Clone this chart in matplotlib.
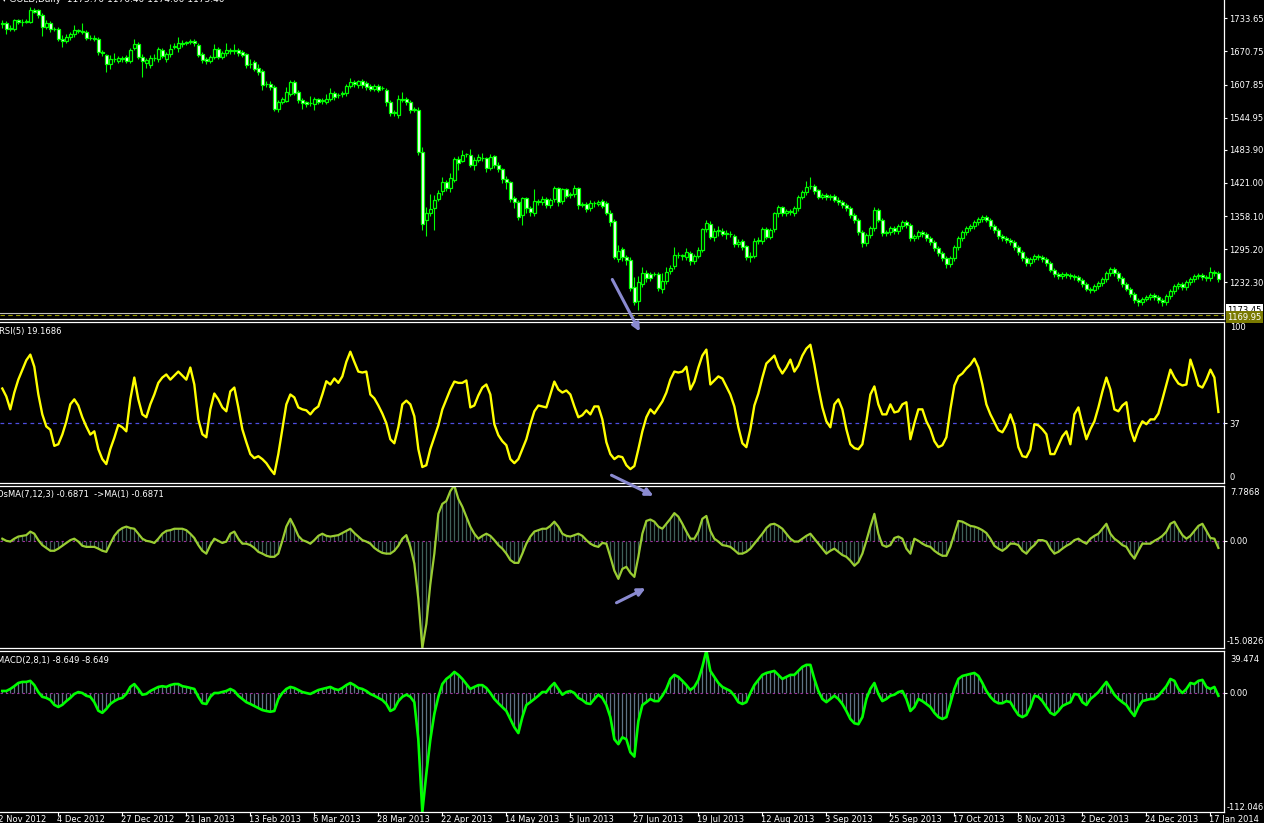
import numpy as np
import matplotlib
matplotlib.use('Agg')
from matplotlib import pyplot as plt
from matplotlib import transforms
from matplotlib.patches import FancyArrowPatch

W, H = 1264, 823

opens = [1722, 1724, 1713, 1713, 1730, 1726, 1727, 1727, 1750, 1749,
         1740, 1718, 1724, 1713, 1714, 1695, 1691, 1698, 1703, 1710,
         1709, 1708, 1696, 1696, 1695, 1669, 1664, 1646, 1656, 1653,
         1658, 1660, 1652, 1678, 1684, 1661, 1648, 1645, 1658, 1656,
         1674, 1656, 1666, 1680, 1678, 1687, 1687, 1688, 1691, 1683,
         1666, 1656, 1652, 1661, 1676, 1661, 1667, 1672, 1671, 1674,
         1669, 1666, 1647, 1650, 1640, 1634, 1609, 1609, 1604, 1561,
         1575, 1577, 1590, 1613, 1594, 1578, 1575, 1572, 1571, 1580,
         1577, 1575, 1580, 1591, 1588, 1589, 1592, 1605, 1612, 1607,
         1614, 1611, 1605, 1600, 1605, 1601, 1598, 1575, 1554, 1550,
         1581, 1580, 1574, 1560, 1560, 1480, 1350, 1364, 1374, 1390,
         1406, 1423, 1411, 1426, 1466, 1463, 1476, 1474, 1455, 1465,
         1468, 1468, 1450, 1472, 1456, 1447, 1428, 1422, 1392, 1384,
         1360, 1392, 1373, 1364, 1386, 1384, 1391, 1379, 1390, 1411,
         1386, 1409, 1398, 1400, 1411, 1380, 1381, 1373, 1382, 1381,
         1386, 1382, 1364, 1349, 1276, 1295, 1280, 1275, 1224, 1197,
         1230, 1250, 1248, 1248, 1248, 1219, 1235, 1253, 1263, 1284,
         1283, 1281, 1288, 1272, 1282, 1293, 1333, 1344, 1319, 1330,
         1330, 1325, 1324, 1321, 1306, 1311, 1301, 1280, 1283, 1311,
         1310, 1334, 1319, 1333, 1363, 1375, 1363, 1368, 1363, 1373,
         1395, 1403, 1415, 1415, 1407, 1395, 1398, 1394, 1396, 1389,
         1385, 1379, 1373, 1360, 1351, 1328, 1307, 1322, 1335, 1370,
         1351, 1326, 1328, 1335, 1330, 1339, 1347, 1341, 1316, 1320,
         1328, 1324, 1316, 1309, 1297, 1288, 1278, 1267, 1278, 1299,
         1316, 1328, 1335, 1339, 1347, 1352, 1356, 1351, 1339, 1331,
         1320, 1316, 1312, 1309, 1299, 1290, 1278, 1269, 1276, 1282,
         1280, 1276, 1269, 1256, 1248, 1244, 1248, 1246, 1244, 1242,
         1237, 1229, 1220, 1218, 1225, 1231, 1238, 1250, 1257, 1250,
         1240, 1229, 1220, 1210, 1199, 1195, 1201, 1204, 1208, 1204,
         1199, 1195, 1206, 1216, 1225, 1229, 1223, 1233, 1238, 1244,
         1246, 1242, 1240, 1252, 1250]

closes = [1724, 1713, 1716, 1730, 1726, 1727, 1729, 1749, 1746, 1740,
          1718, 1724, 1713, 1714, 1695, 1691, 1699, 1704, 1711, 1710,
          1708, 1696, 1697, 1694, 1669, 1668, 1646, 1656, 1656, 1658,
          1656, 1652, 1674, 1684, 1661, 1652, 1654, 1659, 1658, 1675,
          1662, 1666, 1676, 1680, 1687, 1685, 1687, 1691, 1686, 1664,
          1654, 1652, 1660, 1675, 1661, 1667, 1674, 1672, 1674, 1667,
          1664, 1645, 1646, 1638, 1631, 1607, 1609, 1604, 1561, 1575,
          1581, 1593, 1613, 1592, 1578, 1572, 1570, 1572, 1580, 1575,
          1577, 1580, 1591, 1584, 1588, 1591, 1605, 1612, 1608, 1614,
          1607, 1604, 1600, 1605, 1597, 1601, 1574, 1554, 1555, 1580,
          1578, 1574, 1560, 1561, 1480, 1344, 1364, 1372, 1389, 1401,
          1423, 1411, 1430, 1466, 1458, 1474, 1476, 1455, 1464, 1471,
          1468, 1450, 1471, 1456, 1447, 1428, 1422, 1390, 1384, 1357,
          1392, 1373, 1366, 1387, 1384, 1391, 1379, 1389, 1411, 1384,
          1409, 1397, 1400, 1411, 1379, 1380, 1371, 1382, 1382, 1384,
          1378, 1364, 1347, 1281, 1292, 1280, 1275, 1221, 1195, 1232,
          1250, 1240, 1240, 1248, 1221, 1235, 1251, 1260, 1284, 1284,
          1283, 1289, 1272, 1282, 1294, 1333, 1345, 1319, 1330, 1330,
          1325, 1325, 1324, 1306, 1308, 1299, 1280, 1283, 1311, 1311,
          1333, 1319, 1332, 1363, 1375, 1363, 1368, 1366, 1373, 1395,
          1403, 1413, 1415, 1406, 1395, 1398, 1394, 1396, 1389, 1385,
          1379, 1373, 1360, 1351, 1328, 1307, 1322, 1335, 1370, 1351,
          1326, 1328, 1335, 1330, 1339, 1347, 1341, 1316, 1320, 1328,
          1324, 1316, 1309, 1297, 1288, 1278, 1267, 1278, 1299, 1316,
          1328, 1335, 1339, 1347, 1352, 1356, 1351, 1339, 1331, 1320,
          1316, 1312, 1309, 1299, 1290, 1278, 1269, 1276, 1282, 1280,
          1276, 1269, 1256, 1248, 1244, 1248, 1246, 1244, 1242, 1237,
          1229, 1220, 1218, 1225, 1231, 1238, 1250, 1257, 1250, 1240,
          1229, 1220, 1210, 1199, 1195, 1201, 1204, 1208, 1204, 1199,
          1195, 1206, 1216, 1225, 1229, 1223, 1233, 1238, 1244, 1246,
          1242, 1240, 1252, 1250, 1238]

highs = [1731, 1728, 1720, 1733, 1733, 1732, 1733, 1756, 1753, 1752,
         1743, 1730, 1728, 1718, 1717, 1701, 1704, 1708, 1720, 1714,
         1725, 1712, 1701, 1701, 1699, 1673, 1666, 1664, 1668, 1662,
         1663, 1664, 1678, 1694, 1688, 1666, 1658, 1664, 1665, 1679,
         1678, 1670, 1684, 1686, 1698, 1693, 1691, 1695, 1694, 1686,
         1670, 1660, 1664, 1684, 1680, 1672, 1686, 1678, 1684, 1678,
         1673, 1668, 1656, 1655, 1646, 1637, 1615, 1614, 1607, 1578,
         1584, 1603, 1616, 1616, 1597, 1583, 1577, 1586, 1584, 1583,
         1582, 1590, 1602, 1595, 1592, 1596, 1609, 1620, 1616, 1617,
         1618, 1614, 1609, 1608, 1608, 1605, 1601, 1579, 1559, 1588,
         1593, 1584, 1578, 1565, 1565, 1490, 1375, 1400, 1398, 1408,
         1432, 1427, 1440, 1470, 1472, 1484, 1478, 1486, 1470, 1476,
         1478, 1471, 1476, 1475, 1460, 1450, 1434, 1424, 1397, 1388,
         1395, 1395, 1378, 1410, 1390, 1396, 1395, 1393, 1415, 1414,
         1412, 1412, 1404, 1418, 1414, 1384, 1385, 1389, 1387, 1388,
         1390, 1386, 1370, 1352, 1303, 1300, 1284, 1281, 1243, 1245,
         1262, 1256, 1252, 1252, 1251, 1250, 1262, 1266, 1300, 1290,
         1287, 1298, 1292, 1286, 1299, 1336, 1350, 1348, 1336, 1340,
         1336, 1332, 1330, 1324, 1314, 1314, 1304, 1290, 1316, 1318,
         1338, 1338, 1336, 1366, 1380, 1378, 1372, 1371, 1377, 1398,
         1407, 1424, 1433, 1419, 1410, 1402, 1401, 1400, 1400, 1394,
         1389, 1383, 1377, 1364, 1355, 1332, 1326, 1340, 1375, 1374,
         1355, 1332, 1339, 1339, 1343, 1351, 1351, 1345, 1324, 1332,
         1332, 1328, 1320, 1313, 1301, 1292, 1282, 1282, 1303, 1320,
         1332, 1339, 1343, 1351, 1356, 1361, 1360, 1355, 1343, 1335,
         1324, 1320, 1316, 1313, 1303, 1294, 1282, 1280, 1286, 1286,
         1284, 1280, 1273, 1260, 1252, 1252, 1252, 1250, 1248, 1246,
         1241, 1233, 1224, 1229, 1235, 1242, 1254, 1262, 1261, 1254,
         1244, 1233, 1224, 1214, 1203, 1205, 1208, 1212, 1212, 1208,
         1203, 1210, 1220, 1229, 1233, 1233, 1237, 1242, 1248, 1250,
         1250, 1246, 1262, 1256, 1254]

lows = [1715, 1703, 1709, 1710, 1722, 1719, 1724, 1724, 1743, 1735,
        1700, 1714, 1708, 1709, 1690, 1680, 1686, 1693, 1699, 1705,
        1704, 1692, 1692, 1690, 1664, 1662, 1632, 1637, 1650, 1649,
        1651, 1648, 1648, 1674, 1657, 1622, 1640, 1640, 1652, 1650,
        1658, 1650, 1660, 1676, 1670, 1680, 1683, 1684, 1681, 1660,
        1648, 1647, 1648, 1656, 1656, 1656, 1663, 1666, 1666, 1662,
        1660, 1640, 1640, 1633, 1626, 1598, 1604, 1598, 1557, 1556,
        1570, 1574, 1586, 1588, 1573, 1562, 1566, 1568, 1560, 1571,
        1571, 1571, 1576, 1579, 1582, 1584, 1587, 1601, 1603, 1602,
        1602, 1598, 1595, 1595, 1593, 1597, 1568, 1548, 1548, 1545,
        1574, 1569, 1554, 1555, 1475, 1332, 1321, 1359, 1332, 1386,
        1398, 1405, 1404, 1423, 1446, 1460, 1470, 1451, 1445, 1460,
        1463, 1442, 1446, 1450, 1442, 1420, 1410, 1384, 1374, 1350,
        1342, 1364, 1358, 1359, 1380, 1380, 1373, 1373, 1384, 1378,
        1381, 1392, 1393, 1395, 1372, 1375, 1366, 1368, 1376, 1377,
        1374, 1360, 1340, 1276, 1270, 1272, 1265, 1216, 1190, 1180,
        1224, 1233, 1234, 1244, 1215, 1212, 1230, 1248, 1258, 1279,
        1274, 1274, 1266, 1268, 1278, 1290, 1328, 1314, 1310, 1321,
        1320, 1314, 1318, 1300, 1300, 1293, 1274, 1270, 1278, 1305,
        1305, 1314, 1314, 1328, 1357, 1358, 1358, 1361, 1358, 1368,
        1390, 1398, 1410, 1400, 1390, 1390, 1388, 1389, 1384, 1380,
        1374, 1368, 1355, 1345, 1322, 1300, 1302, 1317, 1330, 1346,
        1320, 1321, 1323, 1325, 1325, 1334, 1336, 1310, 1311, 1315,
        1319, 1311, 1304, 1292, 1283, 1272, 1260, 1262, 1273, 1294,
        1311, 1323, 1330, 1334, 1342, 1347, 1346, 1334, 1326, 1315,
        1311, 1307, 1304, 1294, 1285, 1272, 1263, 1264, 1271, 1275,
        1271, 1264, 1251, 1243, 1239, 1239, 1241, 1239, 1237, 1232,
        1224, 1215, 1212, 1213, 1220, 1226, 1233, 1245, 1245, 1235,
        1224, 1215, 1205, 1194, 1187, 1190, 1196, 1199, 1199, 1194,
        1188, 1190, 1201, 1211, 1220, 1218, 1218, 1228, 1233, 1239,
        1237, 1235, 1235, 1245, 1233]

rsi = [58.5, 53.6, 45.6, 56, 64, 70, 76, 79.5, 72, 55,
       42.5, 35, 33, 23, 24, 30, 38, 48.7, 51.8, 48,
       40.7, 35, 30, 32, 21, 14.8, 11.7, 21, 28, 36,
       34.5, 32, 51.8, 65.3, 51.8, 42.5, 40.7, 48.7, 54.8, 62,
       65.3, 67.2, 64, 66.5, 69, 66.5, 64, 71.5, 61, 39.4,
       30.2, 28.3, 45.6, 55.4, 51.8, 46.8, 44.4, 56.7, 59.1, 46.8,
       33.3, 25.3, 17.9, 15.4, 16.6, 14.8, 12.3, 8.6, 5.5, 17.9,
       33.3, 48.7, 54.8, 53, 46.8, 45.6, 45, 42.5, 45.6, 47.4,
       54.8, 63, 61, 64.7, 62, 66, 75, 81.3, 75, 69,
       68.4, 69, 54.8, 52.4, 48, 43, 37, 27.1, 24.6, 34.5,
       48.7, 51, 48.7, 41.3, 21, 9.9, 11, 21, 28.3, 35.7,
       45.6, 51.8, 57.9, 62.8, 62, 62, 63.5, 46.8, 48, 54.2,
       59.1, 61, 54.8, 36.4, 29.6, 25.9, 23.4, 14.8, 12.3, 14.8,
       20.9, 27.1, 36.4, 44.4, 48, 47.4, 46.8, 54.8, 62.8, 57.9,
       56, 57.3, 54.8, 47.4, 40.7, 42, 45, 42.5, 47.4, 47.4,
       39.4, 25.3, 17.9, 14.8, 16.6, 16, 11, 8.6, 10.5, 20.9,
       32, 40.7, 45.6, 43, 46.8, 50.5, 56, 64, 69, 68.4,
       69, 72, 57.9, 62.8, 71.5, 78.9, 82.6, 61, 63.5, 66,
       64.7, 59.8, 54.8, 47.4, 34.5, 24.6, 22.2, 33.3, 48, 55.4,
       65.3, 74, 76.4, 78.9, 72, 67.8, 71.5, 76.4, 69, 72.7,
       78.9, 83.2, 85.6, 73.3, 59.1, 46.8, 38.2, 34.5, 48.7, 51.8,
       45.6, 33.3, 24, 21.6, 20.9, 24, 38.2, 54.8, 59.8, 48.7,
       42.5, 42.5, 48.7, 43.7, 44.4, 48.7, 50, 27.1, 37, 45.6,
       45.6, 38.2, 33.3, 25.9, 22.2, 23.4, 28.3, 45.6, 60.4, 66,
       67.8, 70.9, 73.3, 77, 71.5, 61, 48.7, 42.5, 37.6, 32.7,
       31.4, 35.7, 42.5, 35.7, 22.2, 16.6, 16, 20.9, 36.4, 35.7,
       33.3, 30.2, 17.9, 17.9, 23.4, 28.9, 32, 24, 42.5, 46.8,
       36.4, 27.1, 33.3, 38.2, 46.8, 56.7, 65.3, 57.9, 45.6, 44.4,
       48, 50, 33.3, 25.9, 33.3, 38.2, 36.4, 39.4, 39.4, 43,
       51.8, 61, 70.2, 65.3, 61.6, 60.4, 61, 76.4, 69, 60.4,
       59.1, 64, 70.2, 65.3, 44]

osma = [0.3, 0, -0.1, 0.3, 0.6, 0.7, 0.8, 1.3, 1.0, 0.1,
        -0.6, -1.0, -1.4, -1.4, -1.1, -0.7, -0.3, 0.1, 0.3, -0.1,
        -0.7, -0.85, -0.85, -0.85, -1.1, -1.4, -1.55, -0.4, 0.7, 1.4,
        1.8, 2.0, 1.8, 1.7, 1.0, 0.3, 0, -0.1, -0.3, 0.3,
        1.0, 1.4, 1.5, 1.7, 1.7, 1.7, 1.5, 1.0, 0.4, -0.6,
        -1.4, -1.8, -0.6, 0.3, 0, -0.3, -0.1, 1.0, 1.3, 0.3,
        -0.4, -0.4, -0.6, -1.0, -1.55, -1.8, -2.1, -2.25, -2.25, -1.8,
        0, 2.0, 3.1, 2.0, 0.7, 0.1, -0.1, -0.4, 0.1, 0.7,
        1.0, 0.7, 0.6, 0.7, 0.8, 1.1, 1.4, 1.7, 1.1, 0.6,
        0.1, -0.1, -0.4, -1.0, -1.4, -1.7, -1.8, -1.8, -1.4, -0.7,
        0.3, 0.8, -0.85, -3.2, -8.2, -15.08, -11.7, -6.1, -1.8, 3.8,
        5.2, 5.6, 7.0, 7.79, 5.9, 4.8, 3.4, 2.0, 1.0, 0.3,
        0.7, 1.0, 0.7, 0.1, -0.6, -1.1, -1.8, -2.7, -3.1, -3.1,
        -1.8, -0.4, 0.6, 1.3, 1.5, 1.7, 1.7, 2.1, 2.7, 2.0,
        1.0, 0.7, 0.6, 0.8, 1.0, 0.7, 0.1, -0.4, -0.7, -0.85,
        -0.3, -0.4, -2.25, -4.2, -5.35, -3.95, -3.66, -4.5, -5.07, -2.25,
        1.0, 2.8, 3.0, 2.7, 2.0, 1.7, 2.4, 3.1, 3.9, 3.4,
        2.4, 1.3, 0.3, 0.3, 1.3, 3.1, 3.5, 1.4, 0.3, -0.1,
        -0.6, -0.7, -0.85, -1.3, -1.8, -1.8, -1.55, -1.1, -0.4, 0.3,
        1.0, 1.8, 2.3, 2.4, 2.1, 1.7, 1.0, 0.3, -0.1, -0.1,
        0.3, 0.7, 1.0, 0.3, -0.4, -1.1, -1.8, -1.4, -1.1, -1.55,
        -2.0, -2.25, -2.8, -3.5, -3.0, -1.8, 0, 2.0, 3.8, 1.0,
        -0.6, -0.85, -0.6, 0.4, 0.6, 0.3, -1.1, -1.8, 0.3, 0,
        -0.4, -0.7, -0.85, -1.4, -1.8, -2.1, -2.1, -0.85, 1.0, 2.8,
        2.7, 2.4, 2.1, 2.0, 1.8, 1.5, 1.1, 0.3, -0.7, -1.1,
        -1.4, -1.0, -0.4, -0.4, -0.6, -1.4, -1.8, -1.1, -0.6, 0.1,
        0.1, -0.1, -1.1, -1.8, -1.55, -1.1, -0.7, -0.4, 0.1, 0.3,
        -0.1, -0.4, 0.3, 0.7, 1.0, 1.7, 2.4, 1.0, 0.3, -0.1,
        -0.6, -0.85, -1.8, -2.5, -1.4, -0.4, -0.4, -0.4, 0, 0.3,
        0.7, 1.3, 2.4, 2.7, 1.7, 0.8, 0.3, 0.7, 1.4, 2.1,
        2.4, 1.4, 0.4, 0.3, -1.0]

macd = [1.5, 1.5, 3.4, 6, 9, 10, 10, 11, 7, 0.5,
        -4, -5, -7, -11.5, -13.5, -11.5, -8, -5, -1.3, 0.5,
        -0.4, -3, -4, -9, -17, -19, -15.4, -10.7, -8, -6,
        -5, -1.3, 5.3, 8, 3.4, -2, -1.3, 1.5, 3.4, 5.3,
        6, 5.3, 7, 8, 8, 6, 5.3, 4.3, 3.4, -4,
        -10, -10.7, -4, -0.4, -0.4, 0.5, 1.5, 3.4, 1.5, -3,
        -6, -9, -10.7, -12.6, -14.5, -16.4, -17.3, -18, -17.3, -6,
        -0.4, 3.4, 5.3, 4.3, 2.4, 0.5, -0.4, -1.3, 0.5, 2.4,
        3.4, 4.3, 5.3, 3.4, 2.4, 4.3, 7, 9, 7, 4.3,
        3.4, 1.5, -1.3, -3, -5, -7, -10.7, -17.3, -15.4, -8,
        -4, -2, -4, -9, -44, -112.05, -76, -44, -20, -4,
        8, 12.8, 15.6, 19.4, 16.6, 12.8, 8, 3.4, 5.3, 7,
        7, 4.3, -0.4, -6, -10, -13.6, -17.3, -24.8, -32.5, -38,
        -23, -11.7, -9, -6, -3, 0.5, 0.5, 5.3, 9, 3.4,
        -2, 0.5, 1.5, -0.4, -5, -7, -10, -10.7, -6, -2,
        -5, -11.7, -23, -43.8, -48.4, -42, -43.8, -56, -60, -26.7,
        -11.7, -9, -6, -8, -8, -3, 3.4, 12.8, 16.6, 14.7,
        11, 7, 2.4, 5.3, 11.9, 24.1, 39.47, 20.3, 14.7, 9,
        5.3, 3.4, 1.5, -3, -9, -10.7, -9, -0.4, 7, 11.9,
        16.6, 18.4, 19.4, 20.3, 16.6, 12.8, 14.7, 16.6, 16.6, 20.3,
        24.1, 26, 26, 12.8, 1.5, -6, -9, -6, -3, -6,
        -10.7, -17.3, -24.8, -28.8, -29.7, -23, -6, 3.4, 9, -1.3,
        -8, -6, -3, -2, 0.5, 1.5, -6, -17.3, -13.6, -6,
        -8, -10.7, -13.6, -19, -23, -24.8, -23, -10, 3.4, 12.8,
        15.6, 16.6, 17.5, 18.4, 15.6, 9, 1.5, -4, -8, -10,
        -10, -8, -9, -15.4, -21, -23, -21, -13.6, -3, -4,
        -8, -13.6, -19, -21, -17.3, -12.6, -10.7, -9, -1.3, -2,
        -9, -11.7, -6, -3, 0.5, 5.3, 10, 4.3, -2, -6,
        -9, -11.7, -17.3, -22, -13.6, -8, -7, -6, -6, -3,
        1.5, 6, 12.8, 11, 3.4, -0.4, 3.4, 9, 8, 11,
        11.9, 5.3, 3.4, 5.3, -3]

price_ticks = [1232.30, 1295.20, 1358.10, 1421.00, 1483.90, 1544.95, 1607.85, 1670.75, 1733.65]
date_labels = ['12 Nov 2012', '4 Dec 2012', '27 Dec 2012', '21 Jan 2013', '13 Feb 2013',
               '6 Mar 2013', '28 Mar 2013', '22 Apr 2013', '14 May 2013', '5 Jun 2013',
               '27 Jun 2013', '19 Jul 2013', '12 Aug 2013', '3 Sep 2013', '25 Sep 2013',
               '17 Oct 2013', '8 Nov 2013', '2 Dec 2013', '24 Dec 2013', '17 Jan 2014']
bid, ask = 1169.95, 1173.45
rsi_level = 37
osma_range = (-15.0826, 7.7868)
macd_range = (-112.046, 39.474)

o = np.array(opens, float)
c = np.array(closes, float)
hi = np.array(highs, float)
lo = np.array(lows, float)
n = len(c)
x = np.arange(n)

LIME = '#00ff00'
FS = 6


def px_rect(top, bottom, left=0, right=1224):
    return [left / W, 1 - bottom / H, (right - left) / W, (bottom - top) / H]


def fy(y):
    return 1 - y / H


def style(ax, top=True):
    ax.set_facecolor('black')
    ax.set_xlim(-0.575, 305.4)
    for s in ['top', 'bottom', 'right']:
        ax.spines[s].set_color('white')
        ax.spines[s].set_linewidth(0.9)
    ax.spines['left'].set_visible(False)
    ax.spines['top'].set_visible(top)
    ax.yaxis.tick_right()
    ax.tick_params(axis='y', colors='white', labelsize=FS, length=2.2, width=0.8, pad=1.5)
    ax.set_xticks([])


fig = plt.figure(figsize=(W / 100, H / 100), dpi=100, facecolor='black')

# price window
ax = fig.add_axes(px_rect(0, 319.3))
style(ax, top=False)
ax.set_ylim(1162.1, 1768.4)
ax.axhline(ask, color='#c0c0c0', lw=0.8)
ax.axhline(bid, color='#9a9a00', lw=0.8, dashes=(4, 3))
ax.vlines(x, lo, hi, color=LIME, lw=0.8, zorder=2)
up = c >= o
body_low = np.minimum(o, c)
body_h = np.maximum(np.abs(c - o), 0.8)
ax.bar(x, body_h, bottom=body_low, width=0.68, color=np.where(up, 'black', 'white'),
       edgecolor=LIME, linewidth=0.9, zorder=3)
ax.set_yticks(price_ticks)
ax.set_yticklabels([f'{v:.2f}' for v in price_ticks])
fig.text(2 / W, fy(-0.5), '\u25be GOLD,Daily  1175.70 1176.40 1174.00 1175.40', color='white',
         fontsize=FS + 0.5, va='center', ha='left')
fig.text(1227 / W, fy(310), '1173.45', color='black', fontsize=FS, va='center', ha='left',
         bbox=dict(boxstyle='square,pad=0.15', fc='white', ec='none'))
fig.text(1227 / W, fy(317), '1169.95', color='white', fontsize=FS, va='center', ha='left',
         bbox=dict(boxstyle='square,pad=0.15', fc='#7a7a00', ec='none'))

# RSI window
ax2 = fig.add_axes(px_rect(321.5, 483))
style(ax2)
ax2.set_ylim(0, 100)
ax2.axhline(rsi_level, color='#4e4ee0', lw=0.9, dashes=(3, 3))
ax2.plot(x, rsi, color='#ffff00', lw=1.7, solid_joinstyle='round')
ax2.set_yticks([rsi_level])
ax2.set_yticklabels([str(rsi_level)])
fig.text(-1 / W, fy(331), 'RSI(5) 19.1686', color='white', fontsize=FS, va='center', ha='left')
fig.text(1230 / W, fy(328), '100', color='white', fontsize=FS, va='center', ha='left')
fig.text(1230 / W, fy(477), '0', color='white', fontsize=FS, va='center', ha='left')

# OsMA window
ax3 = fig.add_axes(px_rect(485.5, 648))
style(ax3)
ax3.set_ylim(*osma_range)
ax3.vlines(x, 0, osma, color='#3f5f58', lw=0.9)
ax3.axhline(0, color='#a030a0', lw=0.8, dashes=(2, 3))
ax3.plot(x, osma, color='#9acd32', lw=1.6)
ax3.set_yticks([0])
ax3.set_yticklabels(['0.00'])
fig.text(-3 / W, fy(495), 'OsMA(7,12,3) -0.6871  ->MA(1) -0.6871', color='white', fontsize=FS,
         va='center', ha='left')
fig.text(1230 / W, fy(493), f'{osma_range[1]:.4f}', color='white', fontsize=FS, va='center', ha='left')
fig.text(1227 / W, fy(642), f'{osma_range[0]:.4f}', color='white', fontsize=FS, va='center', ha='left')

# MACD window
ax4 = fig.add_axes(px_rect(650.5, 812))
style(ax4)
ax4.set_ylim(*macd_range)
ax4.vlines(x, 0, macd, color='#5f7385', lw=0.9)
ax4.axhline(0, color='#a030a0', lw=0.8, dashes=(2, 3))
ax4.plot(x, macd, color=LIME, lw=1.9)
ax4.set_yticks([0])
ax4.set_yticklabels(['0.00'])
fig.text(-3 / W, fy(661), 'MACD(2,8,1) -8.649 -8.649', color='white', fontsize=FS,
         va='center', ha='left')
fig.text(1230 / W, fy(659), f'{macd_range[1]:.3f}', color='white', fontsize=FS, va='center', ha='left')
fig.text(1227 / W, fy(807), f'{macd_range[0]:.3f}', color='white', fontsize=FS, va='center', ha='left')

# time scale
tick_bars = [-2 + 16 * k for k in range(len(date_labels))]
ax4.set_xticks(tick_bars[1:])
ax4.tick_params(axis='x', colors='white', length=3, width=0.8, labelbottom=False)
tr = transforms.blended_transform_factory(ax4.transData, fig.transFigure)
for b, lab in zip(tick_bars, date_labels):
    ax4.text(b - 0.3, fy(814.5), lab, transform=tr, color='white', fontsize=FS,
             va='top', ha='left', clip_on=False)

# arrows
for (x0, y0), (x1, y1) in [((611, 277), (641, 334)), ((609, 474), (656, 497)), ((614, 604), (648, 587))]:
    arr = FancyArrowPatch((x0 / W, fy(y0)), (x1 / W, fy(y1)), transform=fig.transFigure,
                          arrowstyle='-|>', mutation_scale=11, color='#8a8ad0', lw=2.2)
    fig.add_artist(arr)

fig.savefig('out.png', dpi=100, facecolor='black')
